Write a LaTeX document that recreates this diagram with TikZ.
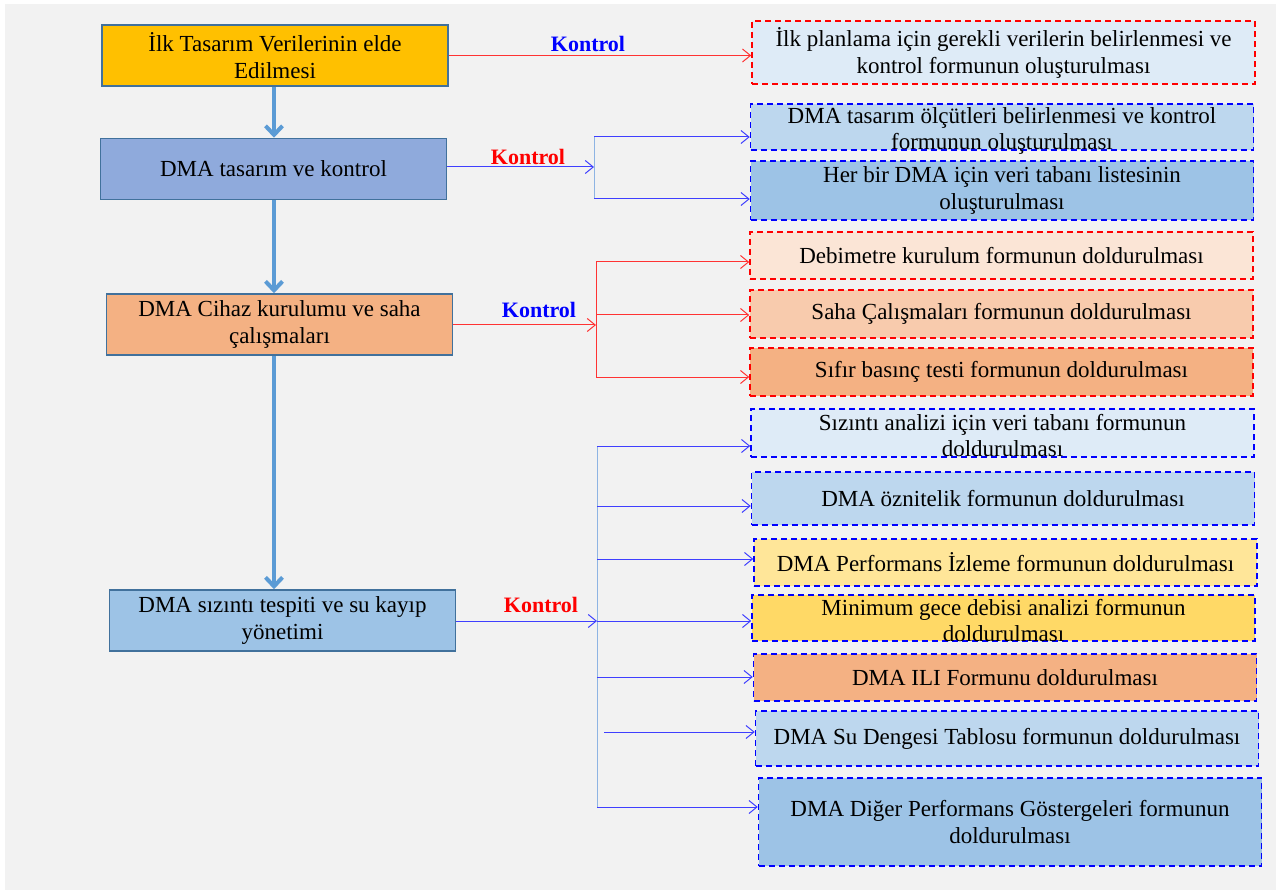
\documentclass[tikz,border=0pt]{standalone}
\usepackage{fontspec}
\setmainfont{Liberation Serif}
\usetikzlibrary{arrows.meta, positioning}

\definecolor{bggray}{HTML}{F2F2F2}
\definecolor{stageborder}{HTML}{41719C}
\definecolor{flowblue}{HTML}{5B9BD5}
\definecolor{linkred}{HTML}{FF3333}
\definecolor{linkblue}{HTML}{3F3FFF}
\definecolor{hubblue}{HTML}{8EB4E3}
\definecolor{cyellow}{HTML}{FFC000}
\definecolor{cstage}{HTML}{8FAADC}
\definecolor{corange}{HTML}{F4B183}
\definecolor{csky}{HTML}{9DC3E6}
\definecolor{cpale}{HTML}{DEEBF7}
\definecolor{clight}{HTML}{BDD7EE}
\definecolor{cpeach}{HTML}{FBE5D6}
\definecolor{capricot}{HTML}{F8CBAD}
\definecolor{clemon}{HTML}{FFE699}
\definecolor{cgold}{HTML}{FFD966}

\tikzset{
  stagebox/.style={draw=stageborder, line width=1.5pt, minimum width=346pt, minimum height=61pt,
    inner sep=0pt, align=center, font=\rmfamily\fontsize{23}{27}\selectfont},
  formbox/.style={line width=1.5pt, dash pattern=on 6pt off 4pt, minimum width=503pt,
    inner sep=0pt, align=center, font=\rmfamily\fontsize{23}{27}\selectfont},
  formtext/.style={inner sep=0pt, align=center, font=\rmfamily\fontsize{23}{26}\selectfont},
  reddash/.style={draw=red},
  bluedash/.style={draw=blue},
  flowarrow/.style={draw=flowblue, line width=4pt, -{Straight Barb[length=9pt,width=17pt]}},
  redlink/.style={draw=linkred, line width=1pt},
  bluelink/.style={draw=linkblue, line width=1pt},
  hubline/.style={draw=hubblue, line width=1pt},
  bluelabel/.style={text=blue, font=\rmfamily\fontsize{22}{27}\selectfont\bfseries},
  redlabel/.style={text=red, font=\rmfamily\fontsize{22}{27}\selectfont\bfseries}
}

\begin{document}
\begin{tikzpicture}[x=1pt, y=-1pt, >={Straight Barb[length=8pt,width=13pt]}]
  \useasboundingbox (0,0) rectangle (1276,890);
  \fill[bggray] (5,4) rectangle (1276,890);

  % ana asamalar
  \node[stagebox, fill=cyellow] (s1) at (275,55.5) {İlk Tasarım Verilerinin elde\\Edilmesi};
  \node[stagebox, fill=cstage] (s2) at (273.5,169) {DMA tasarım ve kontrol};
  \node[stagebox, fill=corange] (s3) at (279.5,324.5) {DMA Cihaz kurulumu ve saha\\çalışmaları};
  \node[stagebox, fill=csky] (s4) at (282.5,620.5) {DMA sızıntı tespiti ve su kayıp\\yönetimi};

  % formlar
  \node[formbox, reddash, fill=cpale, minimum height=63pt] (f1) at (1003.5,52.5) {İlk planlama için gerekli verilerin belirlenmesi ve\\kontrol formunun oluşturulması};
  \node[formbox, bluedash, fill=clight, minimum height=46pt] (f2) at (1002,127) {};
  \node[formtext] (f2t) at (1002,131) {DMA tasarım ölçütleri belirlenmesi ve kontrol\\formunun oluşturulması};
  \node[formbox, bluedash, fill=csky, minimum height=59pt] (f3) at (1002,190.5) {Her bir DMA için veri tabanı listesinin\\oluşturulması};
  \node[formbox, reddash, fill=cpeach, minimum height=47pt] (f4) at (1001.5,255.5) {Debimetre kurulum formunun doldurulması};
  \node[formbox, reddash, fill=capricot, minimum height=48pt] (f5) at (1001.5,314) {Saha Çalışmaları formunun doldurulması};
  \node[formbox, reddash, fill=corange, minimum height=48pt] (f6) at (1001.5,372) {Sıfır basınç testi formunun doldurulması};
  \node[formbox, bluedash, fill=cpale, minimum height=48pt] (f7) at (1002.5,433) {};
  \node[formtext] (f7t) at (1002.5,436) {Sızıntı analizi için veri tabanı formunun\\doldurulması};
  \node[formbox, bluedash, fill=clight, minimum height=53pt] (f8) at (1003,498.5) {DMA öznitelik formunun doldurulması};
  \node[formbox, bluedash, fill=clemon, minimum height=47pt] (f9) at (1005.5,562.5) {DMA Performans İzleme formunun doldurulması};
  \node[formbox, bluedash, fill=cgold, minimum height=46pt] (f10) at (1003.5,618) {};
  \node[formtext] (f10t) at (1003.5,621) {Minimum gece debisi analizi formunun\\doldurulması};
  \node[formbox, bluedash, fill=corange, minimum height=47pt] (f11) at (1005,677.5) {DMA ILI Formunu doldurulması};
  \node[formbox, bluedash, fill=clight, minimum height=55pt] (f12) at (1007,738.5) {DMA Su Dengesi Tablosu formunun doldurulması};
  \node[formbox, bluedash, fill=csky, minimum height=88pt] (f13) at (1010,822) {DMA Diğer Performans Göstergeleri formunun\\doldurulması};

  % ana akis
  \coordinate (axis) at (274,0);
  \draw[flowarrow] (axis |- s1.south) -- (axis |- s2.north);
  \draw[flowarrow] (axis |- s2.south) -- (axis |- s3.north);
  \draw[flowarrow] (axis |- s3.south) -- (axis |- s4.north);

  % kontrol 1
  \draw[redlink, ->] (s1.east) -- (s1.east -| f1.west);
  \node[bluelabel] (k1) at (588,44) {Kontrol};

  % kontrol 2
  \coordinate (h2) at (594,167);
  \coordinate (h2a) at (594,137);
  \coordinate (h2b) at (594,199);
  \draw[bluelink, ->] (s2.east |- h2) -- (h2);
  \draw[hubline] (h2a) -- (h2b);
  \foreach \h/\f in {h2a/f2, h2b/f3}
    \draw[bluelink, ->] (\h) -- (\h -| \f.west);
  \node[redlabel] (k2) at (528,157) {Kontrol};

  % kontrol 3
  \coordinate (h3) at (596,325);
  \coordinate (h3a) at (596,262);
  \coordinate (h3b) at (596,315);
  \coordinate (h3c) at (596,377);
  \draw[redlink, ->] (s3.east |- h3) -- (h3);
  \draw[redlink] (h3a) -- (h3c);
  \foreach \h/\f in {h3a/f4, h3b/f5, h3c/f6}
    \draw[redlink, ->] (\h) -- (\h -| \f.west);
  \node[bluelabel] (k3) at (539,310) {Kontrol};

  % kontrol 4
  \coordinate (h4) at (597,621);
  \coordinate (h4a) at (597,446);
  \coordinate (h4b) at (597,506);
  \coordinate (h4c) at (597,559);
  \coordinate (h4d) at (597,621);
  \coordinate (h4e) at (597,677);
  \coordinate (h4f) at (604,732);
  \coordinate (h4g) at (597,807);
  \draw[bluelink, ->] (s4.east |- h4) -- (h4);
  \draw[hubline] (h4a) -- (h4g);
  \foreach \h/\f in {h4a/f7, h4b/f8, h4c/f9, h4d/f10, h4e/f11, h4f/f12, h4g/f13}
    \draw[bluelink, ->] (\h) -- (\h -| \f.west);
  \node[redlabel] (k4) at (541,605) {Kontrol};
\end{tikzpicture}
\end{document}
